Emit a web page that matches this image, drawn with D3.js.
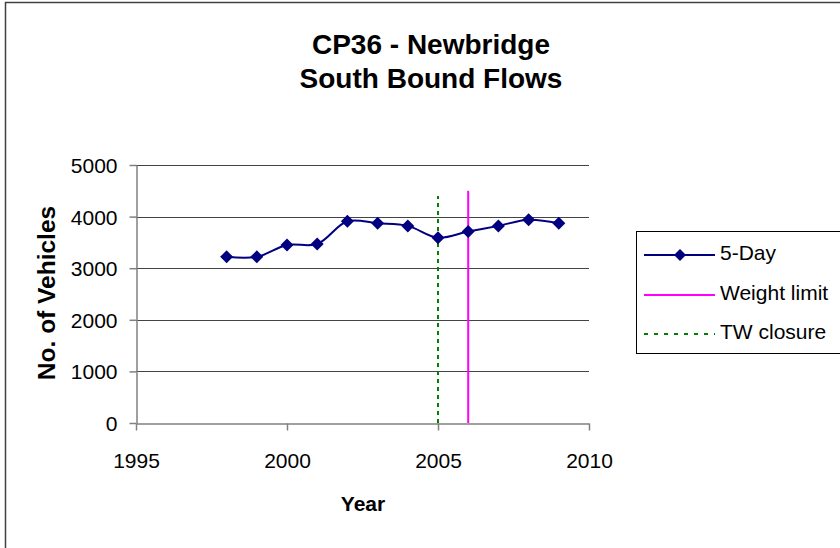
<!DOCTYPE html>
<html>
<head>
<meta charset="utf-8">
<script src="https://cdn.jsdelivr.net/npm/d3@7"></script>
<style>
  html, body { margin: 0; padding: 0; background: #fff; }
  svg { display: block; font-family: Arial, "Liberation Sans", sans-serif; }
</style>
</head>
<body>
<svg id="chart" width="840" height="548"></svg>
<script>
// South bound 5-day average flows at CP36 - Newbridge
const years = [1998, 1999, 2000, 2001, 2002, 2003, 2004, 2005, 2006, 2007, 2008, 2009];
const fiveDay = [3220, 3220, 3450, 3470, 3910, 3870, 3820, 3590, 3710, 3820, 3940, 3870];

// Event markers drawn as vertical lines: [year, from, to]
const weightLimit = [2006, 0, 4500];
const twClosure = [2005, 0, 4400];

const xTicks = [1995, 2000, 2005, 2010];
const yTicks = [0, 1000, 2000, 3000, 4000, 5000];

const titleLines = ["CP36 - Newbridge", "South Bound Flows"];
const legendLabels = ["5-Day", "Weight limit", "TW closure"];

const svg = d3.select("#chart");

// Outer chart frame
svg.append("rect")
  .attr("x", 5.5).attr("y", 2.5)
  .attr("width", 900).attr("height", 600)
  .attr("fill", "#fff").attr("stroke", "#404040").attr("stroke-width", 1.5);

const x = d3.scaleLinear().domain([1995, 2010]).range([136, 589]);
const y = d3.scaleLinear().domain([0, 5000]).range([423, 165]);

// Horizontal gridlines
svg.append("g")
  .selectAll("line")
  .data(yTicks.filter(d => d > 0))
  .join("line")
  .attr("x1", x(1995)).attr("x2", x(2010))
  .attr("y1", d => Math.round(y(d)) + 0.5).attr("y2", d => Math.round(y(d)) + 0.5)
  .attr("stroke", "#444").attr("stroke-width", 1);

// Axes
const yAxis = svg.append("g")
  .attr("transform", `translate(${Math.round(x(1995)) + 0.5},0)`)
  .call(d3.axisLeft(y).tickValues(yTicks).tickFormat(d3.format("d")).tickSize(7).tickPadding(12).tickSizeOuter(0));
const xAxis = svg.append("g")
  .attr("transform", `translate(0,${Math.round(y(0)) + 0.5})`)
  .call(d3.axisBottom(x).tickValues(xTicks).tickFormat(d3.format("d")).tickSize(7).tickPadding(23).tickSizeOuter(0));

[yAxis, xAxis].forEach(g => {
  g.select(".domain").attr("stroke", "#808080").attr("stroke-width", 1.5);
  g.selectAll(".tick line").attr("stroke", "#808080").attr("stroke-width", 1.5);
  g.selectAll(".tick text")
    .attr("fill", "#000")
    .style("font-family", "Arial, 'Liberation Sans', sans-serif")
    .style("font-size", "21px");
});
yAxis.selectAll(".tick text").attr("dy", "0.36em");

// Event lines
svg.append("line")
  .attr("x1", x(twClosure[0])).attr("x2", x(twClosure[0]))
  .attr("y1", y(twClosure[1])).attr("y2", y(twClosure[2]))
  .attr("stroke", "#008000").attr("stroke-width", 2).attr("stroke-dasharray", "4,4");
svg.append("line")
  .attr("x1", x(weightLimit[0])).attr("x2", x(weightLimit[0]))
  .attr("y1", y(weightLimit[1])).attr("y2", y(weightLimit[2]))
  .attr("stroke", "#FF00FF").attr("stroke-width", 2);

// 5-Day series
const pts = years.map((yr, i) => [yr, fiveDay[i]]);
const line = d3.line().x(d => x(d[0])).y(d => y(d[1])).curve(d3.curveCatmullRom.alpha(0.5));
svg.append("path")
  .datum(pts)
  .attr("d", line)
  .attr("fill", "none").attr("stroke", "#000080").attr("stroke-width", 2);

const diamond = s => `M0,${-s}L${s},0L0,${s}L${-s},0Z`;
svg.append("g")
  .selectAll("path")
  .data(pts)
  .join("path")
  .attr("transform", d => `translate(${x(d[0])},${y(d[1])})`)
  .attr("d", diamond(6.5))
  .attr("fill", "#000080");

// Titles
svg.append("text")
  .attr("x", 431).attr("text-anchor", "middle")
  .style("font-weight", "bold").style("font-size", "28px")
  .selectAll("tspan")
  .data(titleLines)
  .join("tspan")
  .attr("x", 431)
  .attr("y", (d, i) => 54 + i * 34)
  .text(d => d);

svg.append("text")
  .attr("x", 363).attr("y", 511)
  .attr("text-anchor", "middle")
  .style("font-weight", "bold").style("font-size", "21px")
  .text("Year");

svg.append("text")
  .attr("transform", "translate(55,293) rotate(-90)")
  .attr("text-anchor", "middle")
  .style("font-weight", "bold").style("font-size", "24.5px")
  .text("No. of Vehicles");

// Legend
const lg = svg.append("g");
lg.append("rect")
  .attr("x", 636.5).attr("y", 231.5)
  .attr("width", 260).attr("height", 122)
  .attr("fill", "#fff").attr("stroke", "#000").attr("stroke-width", 1);

const rows = [255, 295, 334];
lg.append("line").attr("x1", 644).attr("x2", 715).attr("y1", rows[0]).attr("y2", rows[0])
  .attr("stroke", "#000080").attr("stroke-width", 2);
lg.append("path").attr("transform", `translate(680,${rows[0]})`).attr("d", diamond(6)).attr("fill", "#000080");
lg.append("line").attr("x1", 644).attr("x2", 715).attr("y1", rows[1]).attr("y2", rows[1])
  .attr("stroke", "#FF00FF").attr("stroke-width", 2);
lg.append("line").attr("x1", 644).attr("x2", 715).attr("y1", rows[2]).attr("y2", rows[2])
  .attr("stroke", "#008000").attr("stroke-width", 2).attr("stroke-dasharray", "4,6");

lg.selectAll("text.lbl")
  .data(legendLabels)
  .join("text")
  .attr("class", "lbl")
  .attr("x", 720)
  .attr("y", (d, i) => rows[i])
  .attr("dy", "0.25em")
  .style("font-size", "21px")
  .text(d => d);
</script>
</body>
</html>
